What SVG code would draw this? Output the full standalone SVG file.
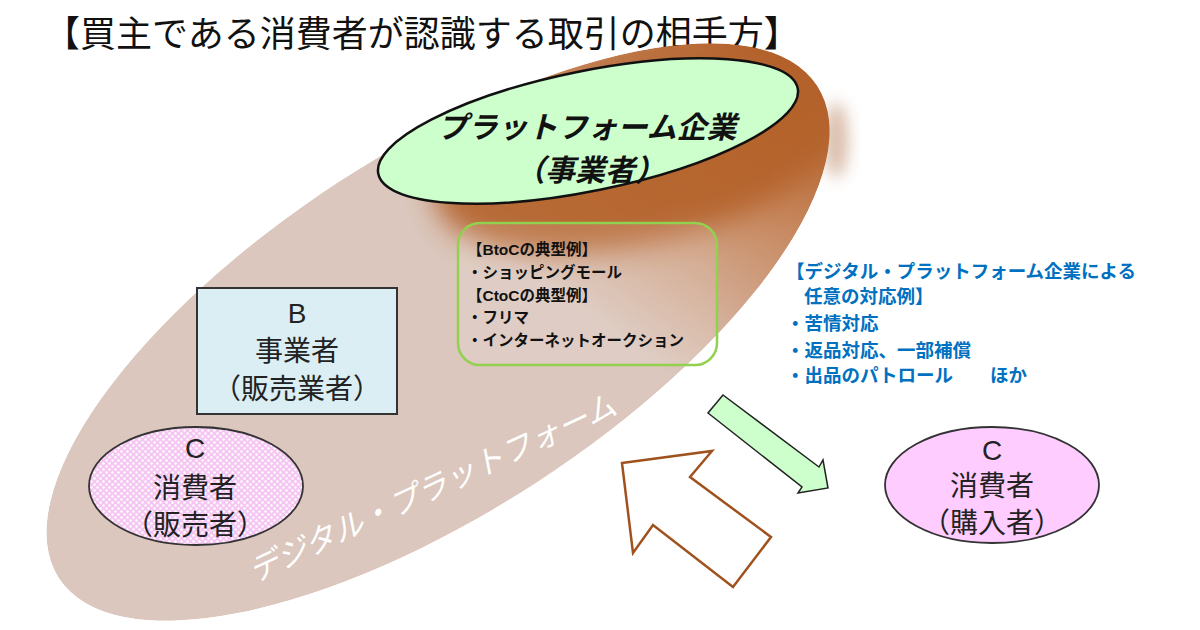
<svg xmlns="http://www.w3.org/2000/svg" width="1200" height="630" viewBox="0 0 1200 630">
  <style>
    .jp { font-family: "Liberation Sans", "Noto Sans CJK JP", sans-serif; }
    .node { fill: #222; font-size: 28px; text-anchor: middle; }
    .ex { fill: #111; font-size: 15.5px; font-weight: bold; }
    .blue { fill: #0070c0; font-size: 18.5px; font-weight: bold; }
  </style>
  <defs>
    <clipPath id="bigClip">
      <ellipse cx="0" cy="0" rx="452" ry="180" transform="translate(438,332) rotate(-33)"/>
    </clipPath>
    <linearGradient id="capGrad" gradientUnits="userSpaceOnUse" x1="430" y1="-60" x2="130" y2="60">
      <stop offset="0" stop-color="#b3612b"/>
      <stop offset="0.4" stop-color="#c7875d"/>
      <stop offset="1" stop-color="#dbc7bd"/>
    </linearGradient>
    <filter id="blur14" x="-50%" y="-50%" width="200%" height="200%">
      <feGaussianBlur stdDeviation="14"/>
    </filter>
    <filter id="blur8" x="-50%" y="-50%" width="200%" height="200%">
      <feGaussianBlur stdDeviation="8"/>
    </filter>
    <pattern id="pinkDots" width="6" height="6" patternUnits="userSpaceOnUse">
      <rect width="6" height="6" fill="#f6c6f3"/>
      <circle cx="1.5" cy="1.5" r="1.2" fill="#ffffff"/>
      <circle cx="4.5" cy="4.5" r="1.2" fill="#ffffff"/>
    </pattern>
  </defs>

  <rect width="1200" height="630" fill="#ffffff"/>

  <g id="title">
    <text class="jp" x="44" y="47" font-size="36" fill="#111">【買主である消費者が認識する取引の相手方】</text>
  </g>

  <g id="digital-platform">
    <ellipse cx="836" cy="140" rx="12" ry="38" fill="#a0582c" opacity="0.4" filter="url(#blur8)"/>
    <g clip-path="url(#bigClip)">
      <ellipse cx="0" cy="0" rx="452" ry="180" transform="translate(438,332) rotate(-33)" fill="url(#capGrad)"/>
      <ellipse cx="640" cy="155" rx="210" ry="88" transform="rotate(-13 640 155)" fill="#b4622c" opacity="0.9" filter="url(#blur14)"/>
    </g>
    <text class="jp" transform="translate(432,488) rotate(-25)" x="0" y="11" font-size="31" fill="#ffffff" text-anchor="middle" font-style="italic">デジタル・プラットフォーム</text>
  </g>

  <g id="platform-company">
    <ellipse cx="0" cy="0" rx="214" ry="60" transform="translate(588,131) rotate(-11.5)" fill="#ccffcc" stroke="#111" stroke-width="2.5"/>
    <text class="jp" x="587" y="138" font-size="30" font-weight="bold" font-style="italic" fill="#111" text-anchor="middle">プラットフォーム企業</text>
    <text class="jp" x="590" y="181" font-size="30" font-weight="bold" font-style="italic" fill="#111" text-anchor="middle">（事業者）</text>
  </g>

  <g id="examples">
    <rect x="458" y="223" width="259" height="142" rx="22" fill="#ffffff" fill-opacity="0.12" stroke="#92d050" stroke-width="2.5"/>
    <text class="jp ex" x="467" y="255">【BtoCの典型例】</text>
    <text class="jp ex" x="467" y="278">・ショッピングモール</text>
    <text class="jp ex" x="467" y="301">【CtoCの典型例】</text>
    <text class="jp ex" x="467" y="323">・フリマ</text>
    <text class="jp ex" x="467" y="346">・インターネットオークション</text>
  </g>

  <g id="seller-b">
    <rect x="197" y="288" width="200" height="126" fill="#daeef3" stroke="#333" stroke-width="2"/>
    <text class="jp node" x="297" y="323">B</text>
    <text class="jp node" x="297" y="361">事業者</text>
    <text class="jp node" x="297" y="399">（販売業者）</text>
  </g>

  <g id="seller-c">
    <ellipse cx="196" cy="486" rx="107" ry="59" fill="url(#pinkDots)" stroke="#333" stroke-width="1.8"/>
    <text class="jp node" x="195" y="458">C</text>
    <text class="jp node" x="195" y="498">消費者</text>
    <text class="jp node" x="195" y="535">（販売者）</text>
  </g>

  <g id="buyer-c">
    <ellipse cx="992" cy="485" rx="107" ry="58" fill="#ffccff" stroke="#333" stroke-width="1.8"/>
    <text class="jp node" x="992" y="460">C</text>
    <text class="jp node" x="992" y="496">消費者</text>
    <text class="jp node" x="992" y="533">（購入者）</text>
  </g>

  <g id="responses">
    <text class="jp blue" x="786" y="278">【デジタル・プラットフォーム企業による</text>
    <text class="jp blue" x="804" y="303">任意の対応例】</text>
    <text class="jp blue" x="786" y="330">・苦情対応</text>
    <text class="jp blue" x="786" y="357">・返品対応、一部補償</text>
    <text class="jp blue" x="786" y="382">・出品のパトロール　　ほか</text>
  </g>

  <g id="connectors">
    <polygon points="723,395 819,467 823,460 828,488 798,493 802,487 708,413" fill="#ccffcc" stroke="#222" stroke-width="1.5" stroke-linejoin="miter"/>
    <polygon points="622,463 712,451 690,477 771,537 733,587 653,525 633,553" fill="#ffffff" stroke="#a0521e" stroke-width="2.5" stroke-linejoin="miter"/>
  </g>
</svg>
